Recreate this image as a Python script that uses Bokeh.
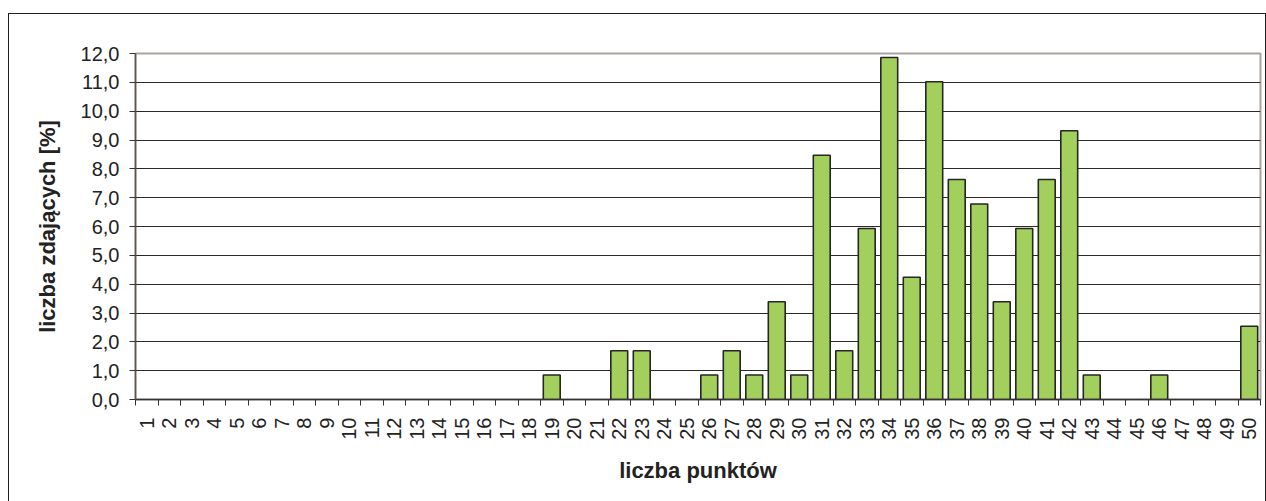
import math
from bokeh.plotting import figure
from bokeh.models import (ColumnDataSource, FixedTicker, CustomJSTickFormatter,
                          Range1d, InlineStyleSheet)
from bokeh.embed import file_html
from bokeh.resources import INLINE

# ---- data -------------------------------------------------------------
points = list(range(1, 51))
percent = [0, 0, 0, 0, 0, 0, 0, 0, 0, 0,
           0, 0, 0, 0, 0, 0, 0, 0, 0.85, 0,
           0, 1.69, 1.69, 0, 0, 0.85, 1.69, 0.85, 3.39, 0.85,
           8.47, 1.69, 5.93, 11.86, 4.24, 11.02, 7.63, 6.78, 3.39, 5.93,
           7.63, 9.32, 0.85, 0, 0, 0.85, 0, 0, 0, 2.54]
y_ticks = list(range(0, 13))
x_title = "liczba punktów"
y_title = "liczba zdających [%]"

# ---- figure -----------------------------------------------------------
src = ColumnDataSource(dict(
    x=[p for p, v in zip(points, percent) if v > 0],
    top=[v for v in percent if v > 0],
))

FONT = "Liberation Sans"

p = figure(width=1266, height=501, output_backend="svg", toolbar_location=None,
           x_range=Range1d(0.5, 50.5), y_range=Range1d(0, 12),
           min_border_left=135, min_border_right=6, min_border_top=53,
           min_border_bottom=102, background_fill_color="white",
           border_fill_color="white")

p.stylesheets = [InlineStyleSheet(css="""
:host { position: relative; }
:host::after { content: ''; position: absolute; left: 8px; right: 0px; top: 13px; bottom: 0;
  border: 1px solid #1e1e1e; border-bottom: none; pointer-events: none; box-sizing: border-box; }
""")]

p.vbar(x="x", top="top", width=0.75, source=src, fill_color="#a3d05c",
       line_color="#262626", line_width=1.6)

# frame
p.outline_line_color = "#aaa39f"
p.outline_line_width = 2

# grid
p.xgrid.visible = False
p.ygrid.ticker = FixedTicker(ticks=y_ticks[1:])
p.ygrid.grid_line_color = "#2a2a2a"
p.ygrid.grid_line_width = 1

# x axis
xa = p.xaxis[0]
xa.ticker = FixedTicker(ticks=points, minor_ticks=[i + 0.5 for i in range(0, 51)])
xa.major_tick_out = 0
xa.major_tick_in = 0
xa.minor_tick_out = 6
xa.minor_tick_in = 0
xa.minor_tick_line_color = "#333333"
xa.axis_line_color = "#333333"
xa.axis_line_width = 1.5
xa.major_label_orientation = math.pi / 2
xa.major_label_standoff = 12
xa.major_label_text_font = FONT
xa.major_label_text_font_size = "20px"
xa.major_label_text_color = "#222222"
xa.axis_label = x_title
xa.axis_label_text_font = FONT
xa.axis_label_text_font_size = "22px"
xa.axis_label_text_font_style = "bold"
xa.axis_label_text_color = "#222222"
xa.axis_label_standoff = 15

# y axis
ya = p.yaxis[0]
ya.ticker = FixedTicker(ticks=y_ticks)
ya.formatter = CustomJSTickFormatter(code="return tick.toFixed(1).replace('.', ',');")
ya.major_tick_out = 6
ya.major_tick_in = 0
ya.minor_tick_out = 0
ya.minor_tick_in = 0
ya.major_tick_line_color = "#333333"
ya.axis_line_color = "#5e5551"
ya.axis_line_width = 1.5
ya.major_label_standoff = 10
ya.major_label_text_font = FONT
ya.major_label_text_font_size = "20px"
ya.major_label_text_color = "#222222"
ya.axis_label = y_title
ya.axis_label_text_font = FONT
ya.axis_label_text_font_size = "22px"
ya.axis_label_text_font_style = "bold"
ya.axis_label_text_color = "#222222"
ya.axis_label_standoff = 18

open("out.html", "w").write(file_html(p, INLINE))
